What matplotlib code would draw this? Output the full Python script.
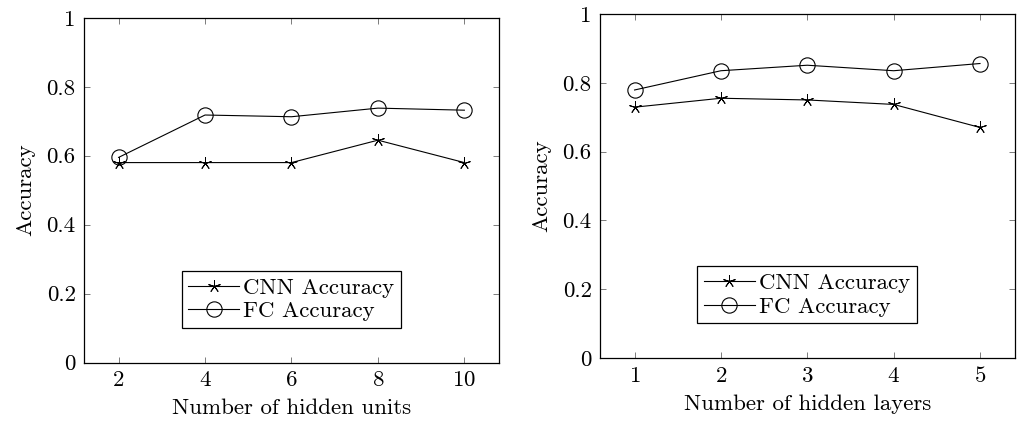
import matplotlib
matplotlib.use("Agg")
import matplotlib.pyplot as plt

plt.rcParams['font.family'] = 'serif'
plt.rcParams['font.serif'] = ['cmr10']
plt.rcParams['mathtext.fontset'] = 'cm'
plt.rcParams['axes.formatter.use_mathtext'] = True
plt.rcParams['font.size'] = 16.5

# データ
units = [2, 4, 6, 8, 10]
cnn_units = [0.58, 0.58, 0.58, 0.645, 0.58]
fc_units = [0.595, 0.718, 0.713, 0.738, 0.732]

layers = [1, 2, 3, 4, 5]
cnn_layers = [0.729, 0.755, 0.750, 0.737, 0.670]
fc_layers = [0.779, 0.835, 0.851, 0.835, 0.856]

yticks = [0, 0.2, 0.4, 0.6, 0.8, 1]
ytick_labels = ['0', '0.2', '0.4', '0.6', '0.8', '1']

fig = plt.figure(figsize=(10.17, 4.24), dpi=100)
ax1 = fig.add_axes([0.0826, 0.145, 0.408, 0.813])
ax2 = fig.add_axes([0.590, 0.156, 0.4076, 0.811])


def draw(ax, x, cnn, fc, xlabel, xlim):
    ax.plot(x, cnn, color='black', lw=0.8, marker=(5, 2, 0), ms=9, mew=0.7,
            label='CNN Accuracy')
    ax.plot(x, fc, color='black', lw=0.8, marker='o', ms=11, mew=0.8,
            mfc='none', label='FC Accuracy')
    ax.set_xlim(xlim)
    ax.set_ylim(0, 1)
    ax.set_xticks(x)
    ax.set_yticks(yticks)
    ax.set_yticklabels(ytick_labels)
    ax.set_xlabel(xlabel, labelpad=6)
    ax.set_ylabel('Accuracy', labelpad=8)
    ax.tick_params(direction='in', top=True, right=True, length=4, width=0.6,
                   color='#666666', pad=6)
    for s in ax.spines.values():
        s.set_linewidth(0.9)
    leg = ax.legend(loc='lower center', bbox_to_anchor=(0.5, 0.1),
                    fancybox=False, edgecolor='black', framealpha=1,
                    handlelength=2.2, handletextpad=0.2, borderpad=0.3,
                    labelspacing=0.15, borderaxespad=0)
    leg.get_frame().set_linewidth(0.9)


draw(ax1, units, cnn_units, fc_units, 'Number of hidden units', (1.2, 10.8))
draw(ax2, layers, cnn_layers, fc_layers, 'Number of hidden layers', (0.6, 5.4))

fig.savefig('out.png', dpi=100)
